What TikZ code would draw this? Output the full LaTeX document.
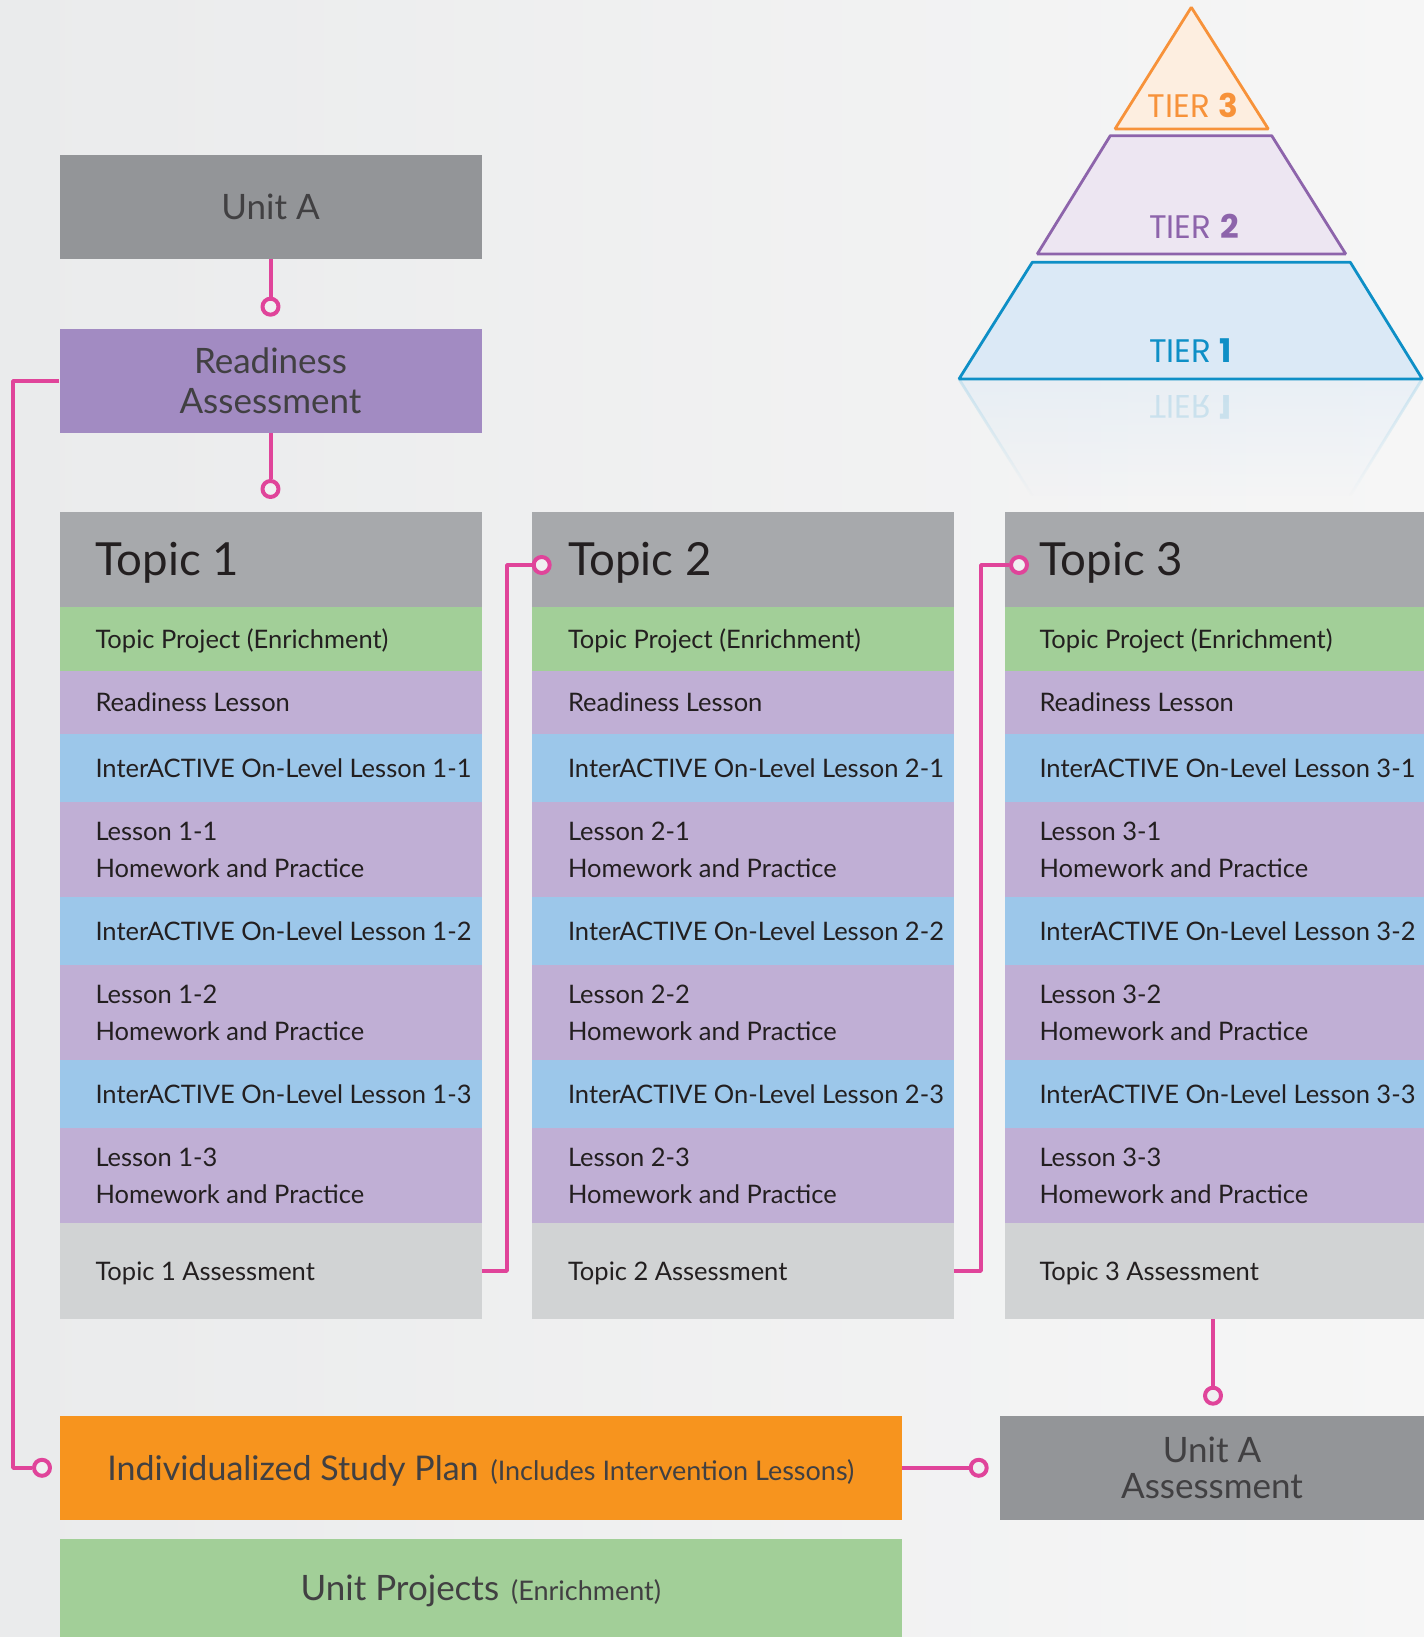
\documentclass[tikz,border=0pt]{standalone}
\usepackage{fontspec}
\setmainfont{Lato}
\newfontfamily\tierfont{Poppins}
\usepackage{tikz}
\usetikzlibrary{positioning,fadings}

\definecolor{unitgray}{HTML}{939598}
\definecolor{readypurple}{HTML}{A28BC2}
\definecolor{topicgray}{HTML}{A7A9AC}
\definecolor{projgreen}{HTML}{A2CF98}
\definecolor{lessonlav}{HTML}{C0AFD5}
\definecolor{activeblue}{HTML}{9CC7EA}
\definecolor{assessgray}{HTML}{D1D3D4}
\definecolor{planorange}{HTML}{F7941E}
\definecolor{linkpink}{HTML}{E0449A}
\definecolor{inktext}{HTML}{231F20}
\definecolor{unittext}{HTML}{414042}
\definecolor{dotfill}{HTML}{F0F0F1}
\definecolor{bgleft}{HTML}{EAEBEC}
\definecolor{bgright}{HTML}{F6F6F6}
\definecolor{tierthree}{HTML}{F7923A}
\definecolor{tierthreefill}{HTML}{FDEEE0}
\definecolor{tiertwo}{HTML}{8D64AB}
\definecolor{tiertwofill}{HTML}{EDE6F2}
\definecolor{tierone}{HTML}{0E8FC6}
\definecolor{tieronefill}{HTML}{DBE9F6}

\tikzfading[name=mirrorfade,top color=transparent!55,bottom color=transparent!100]
\newcommand\rowtext[1]{\makebox[175bp][l]{\begin{tabular}[b]{@{}l@{}}#1\end{tabular}}}

\begin{document}
\begin{tikzpicture}[>=latex,line join=bevel,
  rowbox/.style={rectangle,inner sep=0pt,minimum width=211bp,text=inktext,text height=9.14bp,text depth=0pt,font=\fontsize{12.75bp}{18.5bp}\selectfont},
  headrow/.style={rowbox,fill=topicgray,minimum height=47.5bp,text height=16.3bp,font=\fontsize{22.8bp}{26bp}\selectfont},
  projrow/.style={rowbox,fill=projgreen,minimum height=32bp},
  readyrow/.style={rowbox,fill=lessonlav,minimum height=31.5bp},
  activerow/.style={rowbox,fill=activeblue,minimum height=34bp},
  lessonrow/.style={rowbox,fill=lessonlav,minimum height=47.5bp,text height=27.64bp},
  assessrow/.style={rowbox,fill=assessgray,minimum height=48bp},
  col3/.style={minimum width=209.5bp},
  unitbox/.style={rectangle,inner sep=0pt,minimum width=211bp,minimum height=52bp,align=center,text=unittext,font=\fontsize{17.5bp}{20bp}\selectfont},
  widebox/.style={rectangle,inner sep=0pt,minimum width=420.75bp,text=unittext,text height=12.3bp,text depth=0pt},
  pinkline/.style={draw=linkpink,line width=2bp},
  linkdot/.style={circle,draw=linkpink,line width=2bp,fill=dotfill,minimum size=8bp,inner sep=0pt},
  tierlabel/.style={inner sep=0pt,font=\tierfont\fontsize{16.3bp}{17bp}\selectfont},
]
\useasboundingbox (0bp,0bp) rectangle (712bp,818.5bp);
\fill [left color=bgleft,right color=bgright] (0bp,0bp) rectangle (712bp,818.5bp);
%% pyramid
\fill [tieronefill,path fading=mirrorfade] (479.5bp,629bp) -- (711.15bp,629bp) -- (675.15bp,570.65bp) -- (516.15bp,570.65bp) -- cycle;
\draw [tierone!40,line width=1.4bp,path fading=mirrorfade] (479.5bp,629bp) -- (516.15bp,570.65bp) (711.15bp,629bp) -- (675.15bp,570.65bp);
\draw [tierone,fill=tieronefill,line width=1.4bp] (479.5bp,629bp) -- (711.15bp,629bp) -- (675.15bp,687.35bp) -- (516.15bp,687.35bp) -- cycle;
\draw [tiertwo,fill=tiertwofill,line width=1.4bp] (518.65bp,691.5bp) -- (672.85bp,691.5bp) -- (635.85bp,750.65bp) -- (555.15bp,750.65bp) -- cycle;
\draw [tierthree,fill=tierthreefill,line width=1.4bp] (557.5bp,754bp) -- (634.15bp,754bp) -- (595.65bp,814.85bp) -- cycle;
  \node (tier_3) at (596.5bp,765.75bp) [tierlabel,text=tierthree] {TIER \textbf{3}};
  \node (tier_2) at (597bp,705.3bp) [tierlabel,text=tiertwo] {TIER \textbf{2}};
  \node (tier_1) at (595.3bp,643bp) [tierlabel,text=tierone] {TIER \textbf{1}};
  \node (tier_1_mirror) at (595.3bp,615bp) [tierlabel,text=tierone,opacity=0.15,yscale=-1,transform shape] {TIER \textbf{1}};
%% unit boxes
  \node (unit_a) at (135.25bp,715bp) [unitbox,fill=unitgray] {Unit A};
  \node (ready) at (135.25bp,628bp) [unitbox,fill=readypurple] {Readiness\\Assessment};
  \node (dot_ready) at (135.25bp,665.15bp) [linkdot] {};
  \node (dot_topic_1) at (135.25bp,574bp) [linkdot] {};
%% topic 1
  \node (t1_head) at (135.25bp,538.75bp) [headrow] {\rowtext{Topic 1}};
  \node (t1_proj) at (135.25bp,499bp) [projrow] {\rowtext{Topic Project (Enrichment)}};
  \node (t1_ready) at (135.25bp,467.25bp) [readyrow] {\rowtext{Readiness Lesson}};
  \node (t1_active_1) at (135.25bp,434.5bp) [activerow] {\rowtext{InterACTIVE On-Level Lesson 1-1}};
  \node (t1_lesson_1) at (135.25bp,393.75bp) [lessonrow] {\rowtext{Lesson 1-1\\Homework and Practice}};
  \node (t1_active_2) at (135.25bp,353bp) [activerow] {\rowtext{InterACTIVE On-Level Lesson 1-2}};
  \node (t1_lesson_2) at (135.25bp,312.25bp) [lessonrow] {\rowtext{Lesson 1-2\\Homework and Practice}};
  \node (t1_active_3) at (135.25bp,271.5bp) [activerow] {\rowtext{InterACTIVE On-Level Lesson 1-3}};
  \node (t1_lesson_3) at (135.25bp,230.75bp) [lessonrow] {\rowtext{Lesson 1-3\\Homework and Practice}};
  \node (t1_assess) at (135.25bp,183bp) [assessrow] {\rowtext{Topic 1 Assessment}};
%% topic 2
  \node (t2_head) at (371.5bp,538.75bp) [headrow] {\rowtext{Topic 2}};
  \node (t2_proj) at (371.5bp,499bp) [projrow] {\rowtext{Topic Project (Enrichment)}};
  \node (t2_ready) at (371.5bp,467.25bp) [readyrow] {\rowtext{Readiness Lesson}};
  \node (t2_active_1) at (371.5bp,434.5bp) [activerow] {\rowtext{InterACTIVE On-Level Lesson 2-1}};
  \node (t2_lesson_1) at (371.5bp,393.75bp) [lessonrow] {\rowtext{Lesson 2-1\\Homework and Practice}};
  \node (t2_active_2) at (371.5bp,353bp) [activerow] {\rowtext{InterACTIVE On-Level Lesson 2-2}};
  \node (t2_lesson_2) at (371.5bp,312.25bp) [lessonrow] {\rowtext{Lesson 2-2\\Homework and Practice}};
  \node (t2_active_3) at (371.5bp,271.5bp) [activerow] {\rowtext{InterACTIVE On-Level Lesson 2-3}};
  \node (t2_lesson_3) at (371.5bp,230.75bp) [lessonrow] {\rowtext{Lesson 2-3\\Homework and Practice}};
  \node (t2_assess) at (371.5bp,183bp) [assessrow] {\rowtext{Topic 2 Assessment}};
%% topic 3
  \node (t3_head) at (607.25bp,538.75bp) [headrow,col3] {\rowtext{Topic 3}};
  \node (t3_proj) at (607.25bp,499bp) [projrow,col3] {\rowtext{Topic Project (Enrichment)}};
  \node (t3_ready) at (607.25bp,467.25bp) [readyrow,col3] {\rowtext{Readiness Lesson}};
  \node (t3_active_1) at (607.25bp,434.5bp) [activerow,col3] {\rowtext{InterACTIVE On-Level Lesson 3-1}};
  \node (t3_lesson_1) at (607.25bp,393.75bp) [lessonrow,col3] {\rowtext{Lesson 3-1\\Homework and Practice}};
  \node (t3_active_2) at (607.25bp,353bp) [activerow,col3] {\rowtext{InterACTIVE On-Level Lesson 3-2}};
  \node (t3_lesson_2) at (607.25bp,312.25bp) [lessonrow,col3] {\rowtext{Lesson 3-2\\Homework and Practice}};
  \node (t3_active_3) at (607.25bp,271.5bp) [activerow,col3] {\rowtext{InterACTIVE On-Level Lesson 3-3}};
  \node (t3_lesson_3) at (607.25bp,230.75bp) [lessonrow,col3] {\rowtext{Lesson 3-3\\Homework and Practice}};
  \node (t3_assess) at (607.25bp,183bp) [assessrow,col3] {\rowtext{Topic 3 Assessment}};
%% bottom boxes
  \node (plan) at (240.4bp,84.6bp) [widebox,fill=planorange,minimum height=51.75bp] {{\fontsize{17bp}{20bp}\selectfont Individualized Study Plan}\hspace{6bp}{\fontsize{13.5bp}{14bp}\selectfont (Includes Intervention Lessons)}};
  \node (projects) at (240.4bp,24.5bp) [widebox,fill=projgreen,minimum height=49bp] {{\fontsize{17.5bp}{20bp}\selectfont Unit Projects}\hspace{6bp}{\fontsize{13.5bp}{14bp}\selectfont (Enrichment)}};
  \node (unit_assess) at (606bp,84.6bp) [unitbox,fill=unitgray,minimum width=212bp,minimum height=51.75bp,font=\fontsize{17.5bp}{18bp}\selectfont] {Unit A\\Assessment};
%% connectors
  \node (dot_plan) at (21bp,84.6bp) [linkdot] {};
  \node (dot_topic_2) at (270.85bp,536bp) [linkdot] {};
  \node (dot_topic_3) at (509.5bp,536bp) [linkdot] {};
  \node (dot_unit_assess) at (606.5bp,120.65bp) [linkdot] {};
  \node (dot_plan_out) at (489.35bp,84.6bp) [linkdot] {};
  \draw [pinkline] (unit_a) -- (dot_ready);
  \draw [pinkline] (ready) -- (dot_topic_1);
  \draw [pinkline] (ready.west) -- ++(-23bp,0) |- (dot_plan);
  \draw [pinkline] (t1_assess.east) -- ++(12.75bp,0) |- (dot_topic_2);
  \draw [pinkline] (t2_assess.east) -- ++(13.5bp,0) |- (dot_topic_3);
  \draw [pinkline] (t3_assess.south -| dot_unit_assess) -- (dot_unit_assess);
  \draw [pinkline] (plan) -- (dot_plan_out);
%
\end{tikzpicture}
\end{document}
